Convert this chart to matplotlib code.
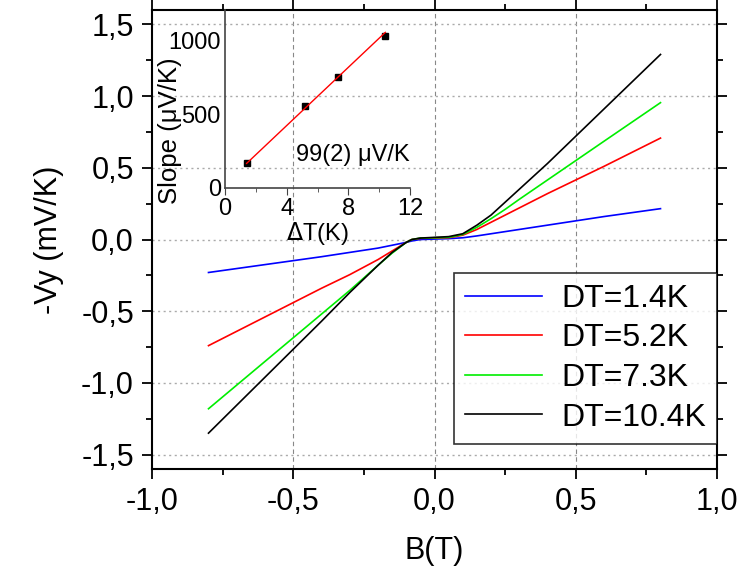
import numpy as np
import matplotlib.pyplot as plt
from matplotlib.ticker import MultipleLocator, FuncFormatter

plt.rcParams['font.family'] = ['Liberation Sans', 'DejaVu Sans']

# field sweep (T) and transverse voltage per kelvin (mV/K)
B = [-0.8, -0.6, -0.4, -0.3, -0.2, -0.15, -0.1, -0.08, -0.05, 0.0,
     0.05, 0.1, 0.15, 0.2, 0.25, 0.3, 0.4, 0.6, 0.8]
vy_14 = [-0.23, -0.175, -0.12, -0.09, -0.06, -0.04, -0.02, -0.01, 0.0, 0.003,
         0.006, 0.012, 0.025, 0.04, 0.055, 0.07, 0.10, 0.16, 0.215]
vy_52 = [-0.74, -0.54, -0.34, -0.245, -0.14, -0.08, -0.02, 0.0, 0.008, 0.01,
         0.012, 0.03, 0.07, 0.12, 0.17, 0.22, 0.32, 0.51, 0.707]
vy_73 = [-1.18, -0.85, -0.52, -0.355, -0.18, -0.095, -0.02, 0.0, 0.01, 0.012,
         0.015, 0.035, 0.085, 0.145, 0.21, 0.28, 0.415, 0.685, 0.954]
vy_104 = [-1.35, -0.96, -0.57, -0.37, -0.18, -0.09, -0.02, 0.0, 0.01, 0.015,
          0.02, 0.04, 0.10, 0.17, 0.26, 0.35, 0.53, 0.91, 1.29]
labels = ['DT=1.4K', 'DT=5.2K', 'DT=7.3K', 'DT=10.4K']
colors = ['#0000ff', '#ff0000', '#00ee00', '#000000']

# inset: slope vs temperature difference
dT = [1.4, 5.2, 7.3, 10.4]
slope = [172, 558, 755, 1034]
fit_slope = 99  # uV/K

def comma(v, pos):
    return ('%.1f' % v).replace('.', ',')

fig = plt.figure(figsize=(7.44, 5.77), dpi=100)
ax = fig.add_axes([152/744, 1-469/577, 565/744, 459/577])

for y, lab, c in zip([vy_14, vy_52, vy_73, vy_104], labels, colors):
    ax.plot(B, y, color=c, lw=1.2, label=lab)

ax.set_xlim(-1, 1)
ax.set_ylim(-1.6, 1.6)
ax.xaxis.set_major_locator(MultipleLocator(0.5))
ax.xaxis.set_minor_locator(MultipleLocator(0.25))
ax.yaxis.set_major_locator(MultipleLocator(0.5))
ax.yaxis.set_minor_locator(MultipleLocator(0.25))
ax.xaxis.set_major_formatter(FuncFormatter(comma))
ax.yaxis.set_major_formatter(FuncFormatter(comma))
ax.tick_params(which='both', direction='out', top=True, right=True,
               width=1.3, labelsize=22)
ax.tick_params(which='major', length=7, pad=6)
ax.tick_params(which='minor', length=4)
for s in ax.spines.values():
    s.set_linewidth(1.5)

# grid: dashed verticals, dotted horizontals
for x in [-0.5, 0, 0.5]:
    ax.axvline(x, color='#888888', ls=(0, (4, 3)), lw=0.8, zorder=0)
for y in np.arange(-1.5, 1.51, 0.5):
    ax.axhline(y, color='#aaaaaa', ls=(0, (1.5, 2.5)), lw=1.0, zorder=0)

ax.set_xlabel('B(T)', fontsize=22, labelpad=14)
ax.set_ylabel('-Vy (mV/K)', fontsize=22, labelpad=12)

leg = ax.legend(loc='lower right', bbox_to_anchor=(1.0, 0.055),
                borderaxespad=0, fontsize=23, frameon=True, fancybox=False,
                handlelength=2.4, labelspacing=0.3, borderpad=0.35,
                handletextpad=0.6)
leg.get_frame().set_edgecolor('black')
leg.get_frame().set_linewidth(1.2)

# inset
ins = fig.add_axes([225/744, 1-188/577, 185/744, 178/577])
ins.patch.set_alpha(0)
ins.plot(dT, slope, 's', color='black', ms=4)
xf = np.array([dT[0], dT[-1]])
b0 = np.mean(slope) - fit_slope*np.mean(dT)
ins.plot(xf, fit_slope*xf + b0, color='red', lw=1)
ins.set_xlim(0, 12)
ins.set_ylim(0, 1210)
ins.set_xticks([0, 4, 8, 12])
ins.xaxis.set_minor_locator(MultipleLocator(2))
ins.set_yticks([0, 500, 1000])
ins.tick_params(axis='x', which='both', direction='out', labelsize=17,
                color='#444444', pad=2)
ins.tick_params(axis='x', which='major', length=5)
ins.tick_params(axis='x', which='minor', length=3)
ins.tick_params(axis='y', length=0, labelsize=17, pad=3)
ins.spines['top'].set_visible(False)
ins.spines['right'].set_visible(False)
for s in ['left', 'bottom']:
    ins.spines[s].set_color('#444444')
    ins.spines[s].set_linewidth(1.2)
ins.set_xlabel(r'$\Delta$T(K)', fontsize=17, labelpad=0)
ins.set_ylabel('Slope (\u03bcV/K)', fontsize=18.5)
ins.yaxis.set_label_coords(-0.23, 0.32)
ins.text(4.6, 225, '99(2) \u03bcV/K', fontsize=17, va='center', ha='left')

fig.savefig('out.png', dpi=100)
